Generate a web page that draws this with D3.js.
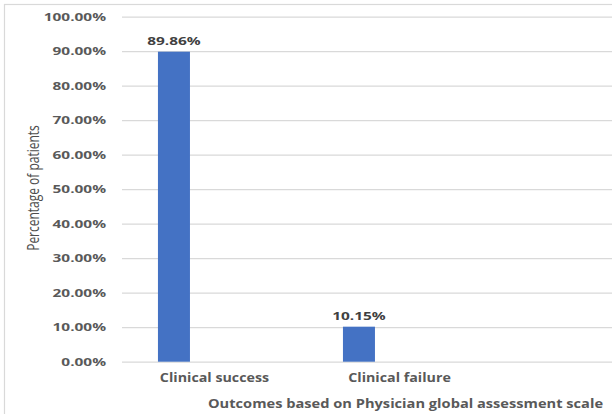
<!DOCTYPE html>
<html>
<head>
<meta charset="utf-8">
<script src="https://cdn.jsdelivr.net/npm/d3@7"></script>
<style>
  html, body { margin: 0; padding: 0; background: #fff; }
  svg { display: block; }
</style>
</head>
<body>
<svg id="chart" width="612" height="414"></svg>
<script>
// Outcome categories (third slot is an empty category on the axis)
const categories = ["Clinical success", "Clinical failure", ""];
// Share of patients per outcome, in percent
const percentages = [89.86, 10.15, null];
// Y axis ticks, in percent
const yTicks = [0, 10, 20, 30, 40, 50, 60, 70, 80, 90, 100];
const yTitle = "Percentage of patients";
const xTitle = "Outcomes based on Physician global assessment scale";

const W = 612, H = 414;
const plot = { left: 122, right: 677, top: 16.7, bottom: 361.7 };
const sxNum = 1.4;            // horizontal widening of numeric labels
const sxCat = 1.19;           // horizontal widening of category labels
const sxTitle = 1.22;         // horizontal widening of the x axis title
const textColor = "#595959";
const gridColor = "#d9d9d9";
const barColor = "#4472c4";
const boldFont = "'Open Sans', 'DejaVu Sans', sans-serif";

const svg = d3.select("#chart");

// outer chart frame
svg.append("rect")
  .attr("x", 4.5).attr("y", 4.5)
  .attr("width", W).attr("height", H)
  .attr("fill", "#fff").attr("stroke", gridColor).attr("stroke-width", 1.2);

const y = d3.scaleLinear().domain([0, 100]).range([plot.bottom, plot.top]);
const idx = d3.range(categories.length);
const xCat = d3.scaleBand().domain(idx).range([plot.left, plot.right]);
const xBar = d3.scaleBand().domain(idx).range([plot.left, plot.right])
  .paddingInner(0.827).paddingOuter(0.4135).align(0.235);

// horizontal gridlines
const grid = svg.append("g")
  .attr("transform", `translate(${plot.left},0)`)
  .call(d3.axisLeft(y).tickValues(yTicks).tickSize(-(W - plot.left)).tickFormat(""));
grid.select(".domain").remove();
grid.selectAll("line").attr("stroke", gridColor).attr("stroke-width", 1.3);

// y tick labels
const yAxis = svg.append("g")
  .attr("transform", `translate(${plot.left},0)`)
  .call(d3.axisLeft(y).tickValues(yTicks).tickSize(0)
    .tickFormat(d => d3.format(".2f")(d) + "%"));
yAxis.select(".domain").remove();
yAxis.selectAll("text")
  .attr("x", -16 / sxNum)
  .attr("transform", `scale(${sxNum},1)`)
  .attr("fill", textColor)
  .style("font-family", boldFont)
  .style("font-weight", 700)
  .style("font-size", "11px");

// bars
const rows = idx.filter(i => percentages[i] != null);
svg.append("g").selectAll("rect")
  .data(rows)
  .join("rect")
  .attr("x", i => xBar(i))
  .attr("width", xBar.bandwidth())
  .attr("y", i => y(percentages[i]))
  .attr("height", i => y(0) - y(percentages[i]))
  .attr("fill", barColor);

// value labels above bars
svg.append("g").selectAll("text")
  .data(rows)
  .join("text")
  .attr("transform", i => `translate(${xBar(i) + xBar.bandwidth() / 2},${y(percentages[i]) - 6.8}) scale(${sxNum},1)`)
  .attr("text-anchor", "middle")
  .attr("fill", "#404040")
  .style("font-family", boldFont)
  .style("font-weight", 700)
  .style("font-size", "11px")
  .text(i => d3.format(".2f")(percentages[i]) + "%");

// category axis
const xAxis = svg.append("g")
  .attr("transform", `translate(0,${plot.bottom})`)
  .call(d3.axisBottom(xCat).tickSize(0).tickFormat(i => categories[i]));
xAxis.select(".domain").remove();
xAxis.selectAll("text")
  .attr("y", 0).attr("dy", null)
  .attr("transform", `translate(0,20.5) scale(${sxCat},1)`)
  .attr("fill", textColor)
  .style("font-family", boldFont)
  .style("font-weight", 700)
  .style("font-size", "12px");

// x axis title
svg.append("text")
  .attr("transform", `translate(405.5,408) scale(${sxTitle},1)`)
  .attr("text-anchor", "middle")
  .attr("fill", textColor)
  .style("font-family", boldFont)
  .style("font-weight", 700)
  .style("font-size", "12px")
  .text(xTitle);

// y axis title
svg.append("text")
  .attr("transform", `translate(39,188) scale(1.4,1) rotate(-90)`)
  .attr("text-anchor", "middle")
  .attr("fill", "#4d4d4d")
  .style("font-family", "'Liberation Sans Narrow', 'Open Sans', sans-serif")
  .style("font-size", "12px")
  .text(yTitle);
</script>
</body>
</html>
